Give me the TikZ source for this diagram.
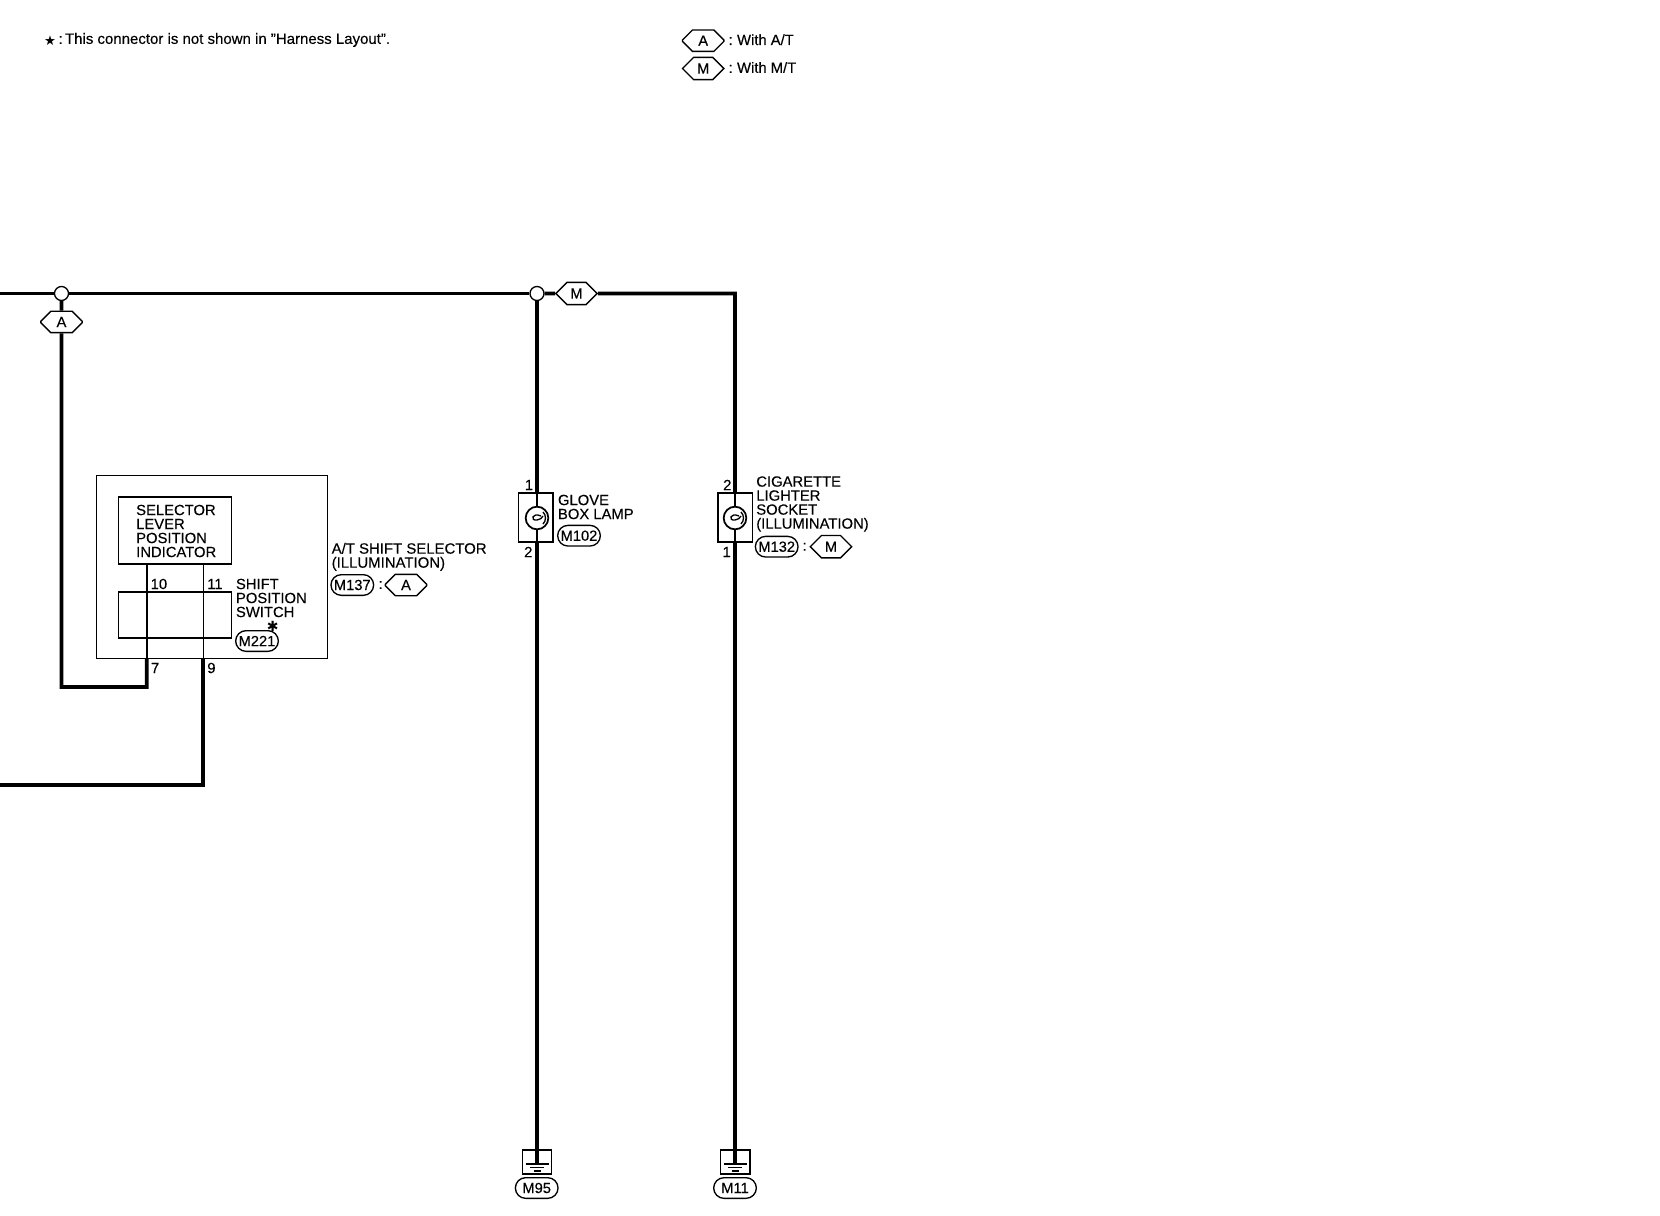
\documentclass[tikz,border=0pt]{standalone}
\usepackage{fontspec}
\setmainfont[FakeBold=0.25]{Liberation Sans}
\newfontfamily\symfont{DejaVu Sans}
\usetikzlibrary{shapes.misc,calc}
\tikzset{
  x=0.75pt,y=-0.75pt,
  wire/.style={line width=2.9pt,line cap=butt,line join=miter},
  midwire/.style={line width=1.4pt},
  thinwire/.style={line width=0.8pt},
  lbl/.style={inner sep=0pt,outer sep=0pt,align=left,anchor=west,font=\fontsize{11.1}{10.5}\selectfont},
  hexa/.style={chamfered rectangle,chamfered rectangle xsep=6.5pt,chamfered rectangle ysep=8pt,
     draw,line width=1pt,fill=white,minimum width=31pt,minimum height=16pt,inner sep=0pt,
     font=\fontsize{11}{11}\selectfont},
  pill/.style={rounded rectangle,draw,line width=1pt,fill=white,minimum width=32pt,minimum height=15.5pt,
     inner sep=0pt,font=\fontsize{11}{11}\selectfont},
  junction/.style={circle,draw,line width=1pt,fill=white,minimum size=10.5pt,inner sep=0pt},
  bigbox/.style={draw,inner sep=0pt,line width=0.9pt},
  inbox/.style={draw,inner sep=0pt,line width=1.2pt},
  lampbox/.style={draw,fill=white,inner sep=0pt,line width=1pt,minimum width=26pt,minimum height=36.75pt},
  lampc/.style={circle,draw,fill=white,inner sep=0pt,line width=1.3pt,minimum size=17pt},
  gndbox/.style={draw,fill=white,inner sep=0pt,line width=1pt,minimum width=22pt,minimum height=18pt},
}
\newcommand{\swirl}[1]{%
  \draw[line width=1pt,shift={(#1)}] (4,-2) .. controls (-5,-6) and (-7,3) .. (0,2) .. controls (3,1.8) and (5,0) .. (6,-2);
  \draw[line width=1pt,shift={(#1)}] (6,-6) arc[start angle=-45,end angle=45,radius=8.5];
}
\newcommand{\gndbars}[1]{%
  \draw[line width=1pt,shift={(#1)}] (-11.5,1) -- (11.5,1) (-7,4.5) -- (7,4.5) (-3.5,8) -- (3.5,8);
}
\begin{document}
\begin{tikzpicture}
\useasboundingbox (0,0) rectangle (1660,1216);
% legend
\node[inner sep=0pt,font=\symfont\fontsize{10}{10}\selectfont] (star) at (50,40.7) {★};
\node[lbl] (notec) at (58.5,40) {:};
\node[lbl,font=\fontsize{11.25}{11}\selectfont] (note) at (65,40) {This connector is not shown in "Harness Layout".};
\node[hexa] (lgA) at (703.2,40.7) {A};
\node[lbl] (lgAt) at (728.5,39.7) {:\hspace{0.3em}With A/T};
\node[hexa] (lgM) at (703.2,68.5) {M};
\node[lbl] (lgMt) at (728.5,67.5) {:\hspace{0.3em}With M/T};
% junctions and condition marks
\coordinate (busL) at (0,293.5);
\coordinate (busR) at (735,293.5);
\node[junction] (j1) at (61.5,293.5) {};
\node[junction] (j2) at (537,293.5) {};
\node[hexa] (hexM) at (576.5,293.5) {M};
\node[hexa] (hexA) at (61.5,322) {A};
% A/T shift selector
\node[bigbox,minimum width=173pt,minimum height=137pt] (outer) at (212,567) {};
\node[inbox,minimum width=84.5pt,minimum height=50.25pt] (sel) at (175,530.5) {};
\node[inbox,minimum width=84.5pt,minimum height=34.25pt] (sw) at (175,615) {};
\node[lbl] (selt) at (136.2,531) {SELECTOR\\LEVER\\POSITION\\INDICATOR};
\coordinate (a10) at (146.7,564);
\coordinate (b10) at (146.7,658.5);
\coordinate (c10) at (146.7,687);
\coordinate (d10) at (61.5,687);
\coordinate (a11) at (203.3,564);
\coordinate (b11) at (203.3,658.5);
\coordinate (c11) at (203.3,785);
\coordinate (d11) at (0,785);
\node[lbl] (p10) at (150.7,584) {10};
\node[lbl] (p11) at (207.3,584) {11};
\node[lbl] (p7) at (151,668) {7};
\node[lbl] (p9) at (207.3,668) {9};
\node[lbl] (swt) at (236,598) {SHIFT\\POSITION\\SWITCH};
\node[inner sep=0pt,font=\symfont\bfseries\fontsize{10.5}{10.5}\selectfont] (ast) at (272.7,626) {✱};
\node[pill] (m221) at (257,641) {M221};
\node[lbl,font=\fontsize{11.2}{10.5}\selectfont] (att) at (331.7,556.8) {A/T SHIFT SELECTOR\\(ILLUMINATION)};
\node[pill] (m137) at (352.3,585) {M137};
\node[lbl] (c137) at (378.5,585) {:};
\node[hexa] (hex137) at (406,585) {A};
% glove box lamp
\node[lampbox] (lamp1) at (535.7,517.5) {};
\coordinate (t1) at (537,493);
\coordinate (u1) at (537,542);
\node[lampc] (lc1) at (537,518) {};
\node[lbl,anchor=center] (p1a) at (529,485) {1};
\node[lbl,anchor=center] (p1b) at (528.3,552) {2};
\node[lbl] (glt) at (558,507) {GLOVE\\BOX LAMP};
\node[pill] (m102) at (579,535.7) {M102};
% cigarette lighter
\node[lampbox] (lamp2) at (735.2,517.5) {};
\coordinate (t2) at (735,493);
\coordinate (u2) at (735,542);
\node[lampc] (lc2) at (735,518) {};
\node[lbl,anchor=center] (p2a) at (727.3,485) {2};
\node[lbl,anchor=center] (p2b) at (726.7,552) {1};
\node[lbl] (cgt) at (756.3,504) {CIGARETTE\\LIGHTER\\SOCKET\\(ILLUMINATION)};
\node[pill] (m132) at (776.7,546.7) {M132};
\node[lbl] (c132) at (802.5,546.7) {:};
\node[hexa] (hex132) at (831,546.7) {M};
% grounds
\node[gndbox] (g1) at (537,1162) {};
\node[gndbox] (g2) at (735.3,1162) {};
\coordinate (gc1) at (537,1163);
\coordinate (gc2) at (735,1163);
\node[pill] (m95) at (536.7,1188) {M95};
\node[pill] (m11) at (735,1188) {M11};
% connectors
\draw[wire] (busL) -- (j1);
\draw[wire] (j1) -- (j2);
\draw[wire] (j2) -- (hexM);
\draw[wire] (hexM) -- (busR) -- (t2);
\draw[wire] (j1) -- (hexA);
\draw[wire] (hexA) -- (d10) -- (c10) -- (b10);
\draw[midwire] (b10) -- (a10);
\draw[thinwire] (a11) -- (b11);
\draw[wire] (b11) -- (c11) -- (d11);
\draw[wire] (j2) -- (t1);
\draw[thinwire] (t1) -- (lc1);
\draw[thinwire] (lc1) -- (u1);
\draw[wire] (u1) -- (gc1);
\draw[thinwire] (t2) -- (lc2);
\draw[thinwire] (lc2) -- (u2);
\draw[wire] (u2) -- (gc2);
\swirl{lc1}
\swirl{lc2}
\gndbars{gc1}
\gndbars{gc2}
\end{tikzpicture}
\end{document}
